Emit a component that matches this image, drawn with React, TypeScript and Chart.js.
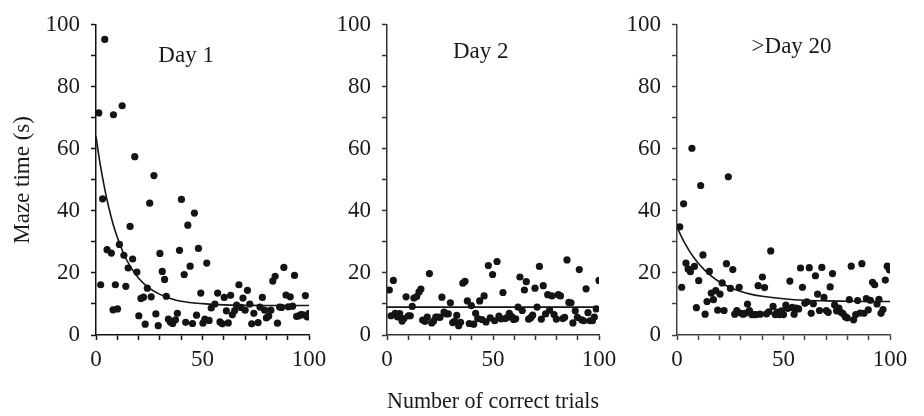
import React, { useEffect, useRef } from "react";
import { Chart, registerables } from "chart.js";

Chart.register(...registerables);

// ---------- data ----------
const day1X = [1.3, 2.2, 3.1, 4.1, 5.2, 7.2, 8.0, 8.2, 9.1, 10.1, 11.0, 12.3, 13.1, 14.0, 15.1, 16.0, 17.2, 18.2, 19.2, 20.1, 21.1, 22.3, 23.1, 24.1, 25.2, 25.9, 27.2, 28.1, 29.2, 30.0, 31.1, 32.2, 33.0, 34.0, 34.9, 36.0, 37.3, 38.2, 39.2, 40.1, 41.4, 42.1, 43.1, 44.2, 45.3, 46.2, 47.2, 48.1, 49.2, 50.2, 51.1, 52.0, 53.1, 54.1, 55.8, 57.1, 58.2, 59.3, 60.2, 61.2, 62.1, 63.2, 64.0, 65.1, 66.0, 67.1, 68.1, 69.0, 70.0, 71.1, 72.2, 73.1, 74.1, 76.1, 77.0, 78.1, 79.2, 80.0, 81.1, 82.1, 83.0, 84.1, 85.2, 86.2, 87.1, 88.2, 89.2, 90.3, 91.2, 92.3, 93.2, 94.2, 95.3, 96.2, 97.2, 98.3, 99.2, 100];
const day1Y = [71.6, 16.2, 43.9, 95.3, 27.5, 26.4, 8.1, 71.0, 16.2, 8.4, 29.2, 73.9, 25.7, 15.7, 21.6, 35.0, 24.5, 57.5, 20.3, 6.2, 11.8, 12.2, 3.5, 15.1, 42.5, 12.3, 51.4, 6.8, 3.0, 26.3, 20.5, 17.9, 12.5, 5.1, 4.2, 3.7, 4.9, 7.0, 27.3, 43.7, 19.5, 4.1, 35.4, 22.2, 3.7, 39.3, 6.4, 27.9, 13.5, 3.8, 5.1, 23.2, 4.7, 8.7, 10.0, 13.5, 4.2, 3.6, 12.1, 7.8, 3.9, 12.8, 6.5, 7.9, 9.6, 16.2, 8.9, 11.9, 8.0, 14.4, 10.0, 3.6, 7.0, 4.0, 9.0, 12.1, 8.0, 5.5, 6.1, 8.0, 17.4, 18.9, 3.8, 9.0, 8.9, 21.8, 12.9, 9.1, 12.3, 9.3, 19.2, 6.0, 6.2, 6.6, 6.5, 12.7, 5.8, 7.0];

const day2X = [1.1, 1.9, 3.0, 3.9, 5.0, 6.0, 7.1, 8.0, 9.0, 10.1, 11.0, 11.9, 12.7, 14.0, 15.1, 16.0, 16.8, 17.9, 19.0, 20.0, 21.1, 22.0, 23.0, 24.1, 25.0, 25.9, 26.9, 28.0, 28.9, 29.9, 31.0, 31.9, 32.9, 33.8, 34.7, 35.8, 36.8, 37.9, 38.8, 39.8, 40.9, 41.8, 42.8, 43.7, 44.8, 45.8, 46.7, 47.8, 48.7, 49.8, 50.8, 51.9, 52.8, 53.8, 54.7, 55.8, 56.8, 57.7, 58.8, 59.7, 60.7, 61.8, 62.7, 63.8, 64.8, 65.7, 66.8, 67.8, 68.7, 69.8, 70.8, 71.9, 72.8, 73.7, 74.8, 75.8, 76.7, 77.8, 78.8, 79.9, 80.8, 81.8, 82.9, 83.8, 84.9, 85.8, 86.8, 87.7, 88.8, 89.8, 90.7, 91.8, 92.8, 93.9, 94.8, 95.8, 96.9, 97.8, 98.7, 100];
const day2Y = [14.5, 6.2, 17.6, 7.0, 5.8, 6.9, 4.5, 5.3, 12.3, 6.2, 6.2, 9.2, 11.9, 12.4, 13.9, 14.8, 4.8, 4.4, 5.8, 19.8, 3.9, 4.5, 5.8, 5.8, 5.7, 12.2, 7.4, 6.8, 6.8, 10.4, 4.0, 4.4, 6.3, 3.0, 4.1, 16.7, 17.3, 11.0, 3.7, 9.5, 3.5, 7.0, 5.3, 11.0, 5.0, 12.6, 4.2, 22.4, 5.5, 19.5, 4.6, 23.7, 6.1, 5.2, 13.7, 5.3, 5.7, 7.0, 5.9, 5.0, 5.2, 9.0, 18.7, 7.9, 14.5, 17.2, 5.1, 5.6, 6.4, 15.1, 9.0, 22.1, 5.1, 15.9, 6.8, 13.0, 8.0, 12.6, 6.6, 5.1, 13.0, 12.6, 5.3, 5.7, 24.2, 10.5, 10.4, 3.9, 7.8, 5.7, 21.1, 4.9, 4.6, 14.9, 7.2, 4.6, 4.6, 5.8, 8.4, 17.6];

const day20X = [1.3, 2.2, 3.1, 4.2, 5.2, 6.3, 7.0, 8.2, 9.1, 10.2, 11.1, 12.2, 13.2, 14.1, 15.2, 16.1, 17.1, 18.2, 19.1, 20.2, 21.2, 22.1, 23.2, 24.1, 25.1, 26.2, 27.1, 28.1, 29.2, 30.1, 31.0, 32.1, 33.1, 34.0, 35.1, 36.1, 37.0, 38.1, 39.0, 40.1, 41.1, 42.0, 43.1, 44.0, 45.1, 46.1, 47.0, 48.1, 49.1, 50.0, 51.1, 52.0, 53.0, 54.1, 55.0, 56.0, 57.1, 58.0, 58.9, 60.0, 61.0, 62.1, 63.0, 64.0, 65.0, 66.0, 66.9, 68.0, 69.0, 70.1, 71.0, 71.9, 73.0, 74.0, 74.9, 76.0, 77.0, 77.9, 79.0, 79.9, 80.9, 81.8, 82.9, 83.9, 84.8, 85.9, 86.8, 87.8, 88.9, 89.8, 90.8, 91.8, 92.8, 93.9, 94.8, 95.8, 96.7, 97.8, 98.7, 99.7];
const day20Y = [34.9, 15.4, 42.3, 23.2, 21.3, 20.4, 60.2, 22.1, 8.8, 17.5, 48.2, 25.8, 6.7, 10.8, 20.5, 13.5, 11.4, 14.3, 8.0, 13.2, 16.8, 7.9, 23.0, 51.0, 15.0, 21.1, 6.7, 7.9, 15.4, 7.0, 6.7, 7.0, 10.0, 7.9, 6.6, 6.6, 6.6, 15.9, 6.7, 18.7, 15.3, 6.8, 7.5, 27.1, 9.2, 6.6, 7.4, 6.6, 7.8, 6.6, 9.6, 8.6, 17.4, 8.9, 6.7, 8.7, 8.4, 21.6, 15.4, 10.2, 10.7, 21.7, 7.0, 10.1, 19.1, 13.2, 7.9, 21.8, 12.1, 7.9, 7.3, 15.5, 19.8, 9.7, 7.8, 8.7, 7.3, 6.9, 5.9, 5.5, 11.4, 22.2, 4.9, 6.6, 11.1, 7.1, 23.0, 7.0, 11.7, 8.1, 11.2, 17.0, 16.2, 10.0, 11.5, 7.0, 8.2, 17.7, 22.2, 21.0];

// fitted curves
const fit1X = [0, 2, 4, 6, 8, 10, 13, 16, 20, 25, 30, 35, 40, 50, 60, 70, 80, 90, 100];
const fit1Y = [64, 54.9, 47.4, 41.1, 35.8, 31.5, 26.2, 22.2, 18.3, 15.1, 13.1, 11.8, 10.9, 10.1, 9.7, 9.6, 9.5, 9.5, 9.5];
const fit2X = [0, 100];
const fit2Y = [9, 9];
const fit3X = [0, 2, 4, 6, 8, 10, 13, 16, 20, 25, 30, 35, 40, 50, 60, 70, 80, 90, 100];
const fit3Y = [34.8, 31.8, 29.2, 26.9, 24.9, 23.1, 20.9, 19.1, 17.1, 15.3, 14.0, 13.1, 12.5, 11.7, 11.2, 11.0, 10.9, 10.8, 10.8];

const panelLabels = ["Day 1", "Day 2", ">Day 20"];
const yAxisTitle = "Maze time (s)";
const xAxisTitle = "Number of correct trials";

// ---------- layout / style ----------
const FONT = "'Liberation Serif', 'Times New Roman', Times, serif";
const TEXT = "#1a1a1a";

type PanelProps = {
  left: number;
  width: number;
  axisWidth: number;
  padRight: number;
  xs: number[];
  ys: number[];
  fx: number[];
  fy: number[];
  label: string;
  labelAt: [number, number];
  axisColor: string;
  showYTitle: boolean;
  showXTitle: boolean;
};

function Panel(p: PanelProps) {
  const ref = useRef<HTMLCanvasElement>(null);
  useEffect(() => {
    if (!ref.current) return;
    const labelPlugin = {
      id: "panelLabel",
      afterDatasetsDraw(chart: any) {
        const { ctx, scales } = chart;
        ctx.save();
        ctx.font = `23px ${FONT}`;
        ctx.fillStyle = TEXT;
        ctx.textAlign = "center";
        ctx.textBaseline = "middle";
        ctx.fillText(
          p.label,
          scales.x.getPixelForValue(p.labelAt[0]),
          scales.y.getPixelForValue(p.labelAt[1])
        );
        ctx.restore();
      },
    };
    const chart = new Chart(ref.current, {
      type: "scatter",
      data: {
        datasets: [
          {
            data: p.xs.map((v, i) => ({ x: v, y: p.ys[i] })),
            pointRadius: 3.6,
            pointBackgroundColor: "#141414",
            pointBorderWidth: 0,
            showLine: false,
          } as any,
          {
            type: "line",
            data: p.fx.map((v, i) => ({ x: v, y: p.fy[i] })),
            borderColor: "#141414",
            borderWidth: 1.6,
            pointRadius: 0,
            cubicInterpolationMode: "monotone",
            fill: false,
          } as any,
        ],
      },
      options: {
        responsive: false,
        animation: false,
        devicePixelRatio: 1,
        layout: { padding: { left: 0, right: p.padRight, top: 17, bottom: 0 } },
        plugins: { legend: { display: false }, tooltip: { enabled: false } },
        scales: {
          x: {
            type: "linear",
            min: 0,
            max: 100,
            ticks: {
              stepSize: 10,
              autoSkip: false,
              maxRotation: 0,
              padding: 6,
              color: TEXT,
              font: { family: FONT, size: 23 },
              callback: (v: any) => (Number(v) % 50 === 0 ? String(v) : ""),
            },
            grid: {
              display: true,
              drawOnChartArea: false,
              drawTicks: true,
              tickLength: 5,
              tickColor: p.axisColor,
              tickWidth: 1.5,
            },
            border: { display: true, color: p.axisColor, width: 1.5 },
            title: {
              display: p.showXTitle,
              text: xAxisTitle,
              color: TEXT,
              font: { family: FONT, size: 23 },
              padding: { top: 0, bottom: 0 },
            },
            afterFit: (s: any) => {
              s.height = 81;
            },
          },
          y: {
            type: "linear",
            min: 0,
            max: 100,
            ticks: {
              stepSize: 10,
              padding: 11,
              color: TEXT,
              font: { family: FONT, size: 23 },
              callback: (v: any) => (Number(v) % 20 === 0 ? String(v) : ""),
            },
            grid: {
              display: true,
              drawOnChartArea: false,
              drawTicks: true,
              tickLength: 5,
              tickColor: p.axisColor,
              tickWidth: 1.5,
            },
            border: { display: true, color: p.axisColor, width: 1.5 },
            title: {
              display: p.showYTitle,
              text: yAxisTitle,
              color: TEXT,
              font: { family: FONT, size: 23 },
              padding: { top: 9, bottom: 0 },
            },
            afterFit: (s: any) => {
              s.width = p.axisWidth;
            },
          },
        },
      } as any,
      plugins: [labelPlugin],
    });
    return () => chart.destroy();
  }, []);
  return (
    <canvas
      ref={ref}
      width={p.width}
      height={416}
      style={{ position: "absolute", left: p.left, top: 0, width: p.width, height: 416, display: "block" }}
    />
  );
}

export default function App() {
  return (
    <div style={{ position: "absolute", left: 0, top: 0, width: 924, height: 416, background: "#ffffff" }}>
      <Panel left={0} width={334} axisWidth={96} padRight={25} xs={day1X} ys={day1Y} fx={fit1X} fy={fit1Y}
        label={panelLabels[0]} labelAt={[42.3, 89.8]} axisColor="#111111" showYTitle={true} showXTitle={false} />
      <Panel left={334} width={290} axisWidth={53} padRight={25} xs={day2X} ys={day2Y} fx={fit2X} fy={fit2Y}
        label={panelLabels[1]} labelAt={[44.2, 91.4]} axisColor="#333333" showYTitle={false} showXTitle={true} />
      <Panel left={624} width={300} axisWidth={53} padRight={34} xs={day20X} ys={day20Y} fx={fit3X} fy={fit3Y}
        label={panelLabels[2]} labelAt={[53.8, 92.8]} axisColor="#444444" showYTitle={false} showXTitle={false} />
    </div>
  );
}
